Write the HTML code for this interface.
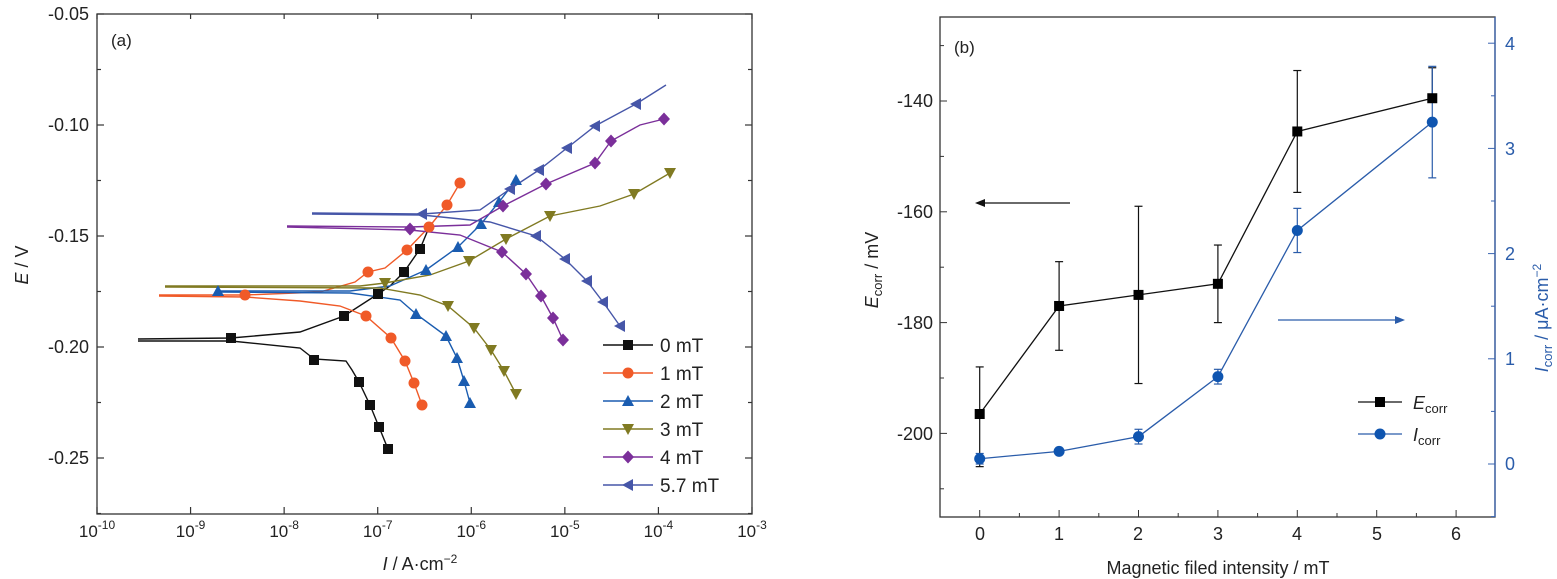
<!DOCTYPE html>
<html><head><meta charset="utf-8"><style>
html,body{margin:0;padding:0;background:#fff;}
svg{display:block;font-family:"Liberation Sans",Arial,sans-serif;}
</style></head><body>
<svg id="s" width="1557" height="579" viewBox="0 0 1557 579" xmlns="http://www.w3.org/2000/svg">
<rect width="1557" height="579" fill="#fff"/>
<!-- Left panel frame -->
<rect x="97" y="14" width="655" height="500" fill="none" stroke="#333" stroke-width="1.3"/>
<g id="lt" stroke="#333" stroke-width="1.2"></g>
<g font-size="18" fill="#222" text-anchor="end">
<text x="89" y="20">-0.05</text><text x="89" y="131">-0.10</text><text x="89" y="242">-0.15</text><text x="89" y="353">-0.20</text><text x="89" y="464">-0.25</text>
</g>
<g id="lx" font-size="17" fill="#222" text-anchor="middle"></g>
<text x="420" y="570" font-size="18" fill="#222" text-anchor="middle"><tspan font-style="italic">I</tspan> / A·cm<tspan dy="-7" font-size="12">−2</tspan></text>
<text transform="translate(28,265) rotate(-90)" font-size="18" fill="#222" text-anchor="middle"><tspan font-style="italic">E</tspan> / V</text>
<text x="111" y="46" font-size="17" fill="#222">(a)</text>
<g id="curves" fill="none" stroke-width="1.4"></g>
<g id="marks"></g>
<g id="leg"></g>

<!-- Right panel -->
<rect x="940" y="17" width="555" height="500" fill="none" stroke="#333" stroke-width="1.3"/>
<line x1="1495" y1="17" x2="1495" y2="517" stroke="#3a64b0" stroke-width="1.3"/>
<g id="rt"></g>
<g font-size="18" fill="#222" text-anchor="end">
<text x="933" y="107">-140</text><text x="933" y="218">-160</text><text x="933" y="329">-180</text><text x="933" y="440">-200</text>
</g>
<g font-size="18" fill="#2a5caa" text-anchor="start">
<text x="1505" y="50">4</text><text x="1505" y="155">3</text><text x="1505" y="260">2</text><text x="1505" y="365">1</text><text x="1505" y="470">0</text>
</g>
<g font-size="18" fill="#222" text-anchor="middle">
<text x="980" y="540">0</text><text x="1059" y="540">1</text><text x="1138" y="540">2</text><text x="1218" y="540">3</text><text x="1297" y="540">4</text><text x="1377" y="540">5</text><text x="1456" y="540">6</text>
</g>
<text x="1218" y="574" font-size="18" fill="#222" text-anchor="middle">Magnetic filed intensity / mT</text>
<text transform="translate(878,270) rotate(-90)" font-size="18" fill="#222" text-anchor="middle"><tspan font-style="italic">E</tspan><tspan font-size="13" dy="4">corr</tspan><tspan dy="-4"> / mV</tspan></text>
<text transform="translate(1548,318) rotate(-90)" font-size="18" fill="#2a5caa" text-anchor="middle"><tspan font-style="italic">I</tspan><tspan font-size="13" dy="4">corr</tspan><tspan dy="-4"> / μA·cm</tspan><tspan dy="-7" font-size="12">−2</tspan></text>
<text x="954" y="53" font-size="17" fill="#222">(b)</text>
<g id="rp"></g>
<!-- arrows -->
<line x1="1070" y1="203" x2="982" y2="203" stroke="#111" stroke-width="1.2"/>
<polygon points="975,203 985,199 985,207" fill="#111"/>
<line x1="1278" y1="320" x2="1398" y2="320" stroke="#2a5caa" stroke-width="1.2"/>
<polygon points="1405,320 1395,316 1395,324" fill="#2a5caa"/>
<!-- legend right -->
<line x1="1358" y1="402" x2="1402" y2="402" stroke="#111" stroke-width="1.3"/>
<rect x="1375" y="397" width="10" height="10" fill="#000"/>
<text x="1413" y="409" font-size="18" fill="#222"><tspan font-style="italic">E</tspan><tspan font-size="13" dy="4">corr</tspan></text>
<line x1="1358" y1="434" x2="1402" y2="434" stroke="#2a5caa" stroke-width="1.3"/>
<circle cx="1380" cy="434" r="5.5" fill="#0f55b0"/>
<text x="1413" y="441" font-size="18" fill="#222"><tspan font-style="italic">I</tspan><tspan font-size="13" dy="4">corr</tspan></text>
</svg>
<script>
const NS="http://www.w3.org/2000/svg";
function el(p,t,a){const e=document.createElementNS(NS,t);for(const k in a)e.setAttribute(k,a[k]);p.appendChild(e);return e;}
const $=id=>document.getElementById(id);
// left ticks
const lt=$('lt');
for(let i=0;i<=7;i++){const x=97+i*93.57;el(lt,'line',{x1:x,y1:514,x2:x,y2:507});el(lt,'line',{x1:x,y1:14,x2:x,y2:19});
 const t=el($('lx'),'text',{x:x,y:537});t.innerHTML=`10<tspan dy="-8" font-size="12">${-10+i}</tspan>`;}
for(let k=0;k<=9;k++){const y=14+k*55.5;const L=k%2==0?7:4;el(lt,'line',{x1:97,y1:y,x2:97+L,y2:y});el(lt,'line',{x1:752,y1:y,x2:752-L,y2:y});}
// series
const S=[
{c:'#111',m:'sq',a:[[138,339],[231,338],[300,332],[344,316],[378,294],[390,286],[404,272],[420,249],[430,225]],
 k:[[138,341],[231,341],[300,348],[314,359],[346,361],[352,370],[359,382],[370,405],[379,427],[388,449]],
 p:[[231,338],[344,316],[378,294],[404,272],[420,249],[314,360],[359,382],[370,405],[379,427],[388,449]]},
{c:'#f05a28',m:'ci',a:[[159,295],[245,295],[320,292],[355,282],[368,272],[385,268],[407,250],[429,227],[447,205],[460,183]],
 k:[[159,296],[245,297],[300,301],[340,306],[366,316],[391,338],[405,361],[414,383],[422,405]],
 p:[[245,295],[368,272],[407,250],[429,227],[447,205],[460,183],[366,316],[391,338],[405,361],[414,383],[422,405]]},
{c:'#1a5cb0',m:'tu',a:[[218,291],[350,291],[390,286],[426,270],[458,247],[481,224],[499,202],[516,180]],
 k:[[218,292],[350,293],[400,300],[416,314],[446,336],[457,358],[464,381],[470,403]],
 p:[[218,291],[426,270],[458,247],[481,224],[499,202],[516,180],[416,314],[446,336],[457,358],[464,381],[470,403]]},
{c:'#807a22',m:'td',a:[[165,286],[360,286],[385,283],[430,275],[469,261],[506,239],[550,216],[600,206],[634,194],[670,173]],
 k:[[165,287],[380,288],[420,295],[448,306],[474,328],[491,350],[504,371],[516,394]],
 p:[[385,283],[469,261],[506,239],[550,216],[634,194],[670,173],[448,306],[474,328],[491,350],[504,371],[516,394]]},
{c:'#7b2f9a',m:'di',a:[[287,226],[410,227],[470,225],[503,206],[546,184],[595,163],[611,141],[640,125],[664,119]],
 k:[[287,227],[410,230],[460,235],[502,252],[526,274],[541,296],[553,318],[563,340]],
 p:[[410,229],[503,206],[546,184],[595,163],[611,141],[664,119],[502,252],[526,274],[541,296],[553,318],[563,340]]},
{c:'#4656a8',m:'tl',a:[[312,213],[422,214],[480,210],[510,189],[539,170],[567,148],[595,126],[636,104],[666,85]],
 k:[[312,214],[422,215],[490,222],[536,236],[565,259],[587,281],[603,302],[620,326]],
 p:[[422,214],[510,189],[539,170],[567,148],[595,126],[636,104],[536,236],[565,259],[587,281],[603,302],[620,326]]}];
function mark(g,t,x,y,c,s){s=s||1;
 if(t=='sq')el(g,'rect',{x:x-5*s,y:y-5*s,width:10*s,height:10*s,fill:c});
 else if(t=='ci')el(g,'circle',{cx:x,cy:y,r:5.5*s,fill:c});
 else if(t=='tu')el(g,'polygon',{points:`${x},${y-6} ${x-6},${y+5} ${x+6},${y+5}`,fill:c});
 else if(t=='td')el(g,'polygon',{points:`${x},${y+6} ${x-6},${y-5} ${x+6},${y-5}`,fill:c});
 else if(t=='di')el(g,'polygon',{points:`${x},${y-6.5} ${x+6},${y} ${x},${y+6.5} ${x-6},${y}`,fill:c});
 else if(t=='tl')el(g,'polygon',{points:`${x-6},${y} ${x+5},${y-6} ${x+5},${y+6}`,fill:c});}
const names=['0 mT','1 mT','2 mT','3 mT','4 mT','5.7 mT'];
S.forEach((s,i)=>{
 el($('curves'),'polyline',{points:s.a.join(' '),stroke:s.c});
 el($('curves'),'polyline',{points:s.k.join(' '),stroke:s.c});
 s.p.forEach(p=>mark($('marks'),s.m,p[0],p[1],s.c));
 const y=345+i*28;
 el($('leg'),'line',{x1:603,y1:y,x2:653,y2:y,stroke:s.c,'stroke-width':1.4});
 mark($('leg'),s.m,628,y,s.c);
 const t=el($('leg'),'text',{x:660,y:y+7,'font-size':19,fill:'#222'});t.textContent=names[i];
});
// right ticks
const rt=$('rt');
const X=m=>979.7+m*79.4, YL=v=>101+(-140-v)*5.54, YR=v=>464-v*105.2;
for(let m=0;m<=6;m+=0.5){const x=X(m),L=m%1==0?7:4;el(rt,'line',{x1:x,y1:517,x2:x,y2:517-L,stroke:'#333'});}
for(let v=-210;v<=-120;v+=10){const y=YL(v);if(y<17||y>517)continue;const L=v%20==0?7:4;el(rt,'line',{x1:940,y1:y,x2:940+L,y2:y,stroke:'#333'});}
for(let v=-0.5;v<=4.2;v+=0.5){const y=YR(v);if(y<17||y>517)continue;const L=Math.abs(v%1)<1e-6?7:4;el(rt,'line',{x1:1495,y1:y,x2:1495-L,y2:y,stroke:'#3a64b0'});}
const ms=[0,1,2,3,4,5.7];
const E=[-196.5,-177,-175,-173,-145.5,-139.5], Eh=[-188,-169,-159,-166,-134.5,-134], El=[-206,-185,-191,-180,-156.5,-140];
const I=[0.05,0.12,0.26,0.83,2.22,3.25], Ih=[0.1,0.15,0.33,0.9,2.43,3.78], Il=[0.0,0.09,0.19,0.76,2.01,2.72];
const rp=$('rp');
function eb(x,y1,y2,c){el(rp,'line',{x1:x,y1:y1,x2:x,y2:y2,stroke:c,'stroke-width':1.2});el(rp,'line',{x1:x-4,y1:y1,x2:x+4,y2:y1,stroke:c,'stroke-width':1.2});el(rp,'line',{x1:x-4,y1:y2,x2:x+4,y2:y2,stroke:c,'stroke-width':1.2});}
ms.forEach((m,i)=>{eb(X(m),YL(Eh[i]),YL(El[i]),'#111');eb(X(m),YR(Ih[i]),YR(Il[i]),'#2a5caa');});
el(rp,'polyline',{points:ms.map((m,i)=>X(m)+','+YL(E[i])).join(' '),fill:'none',stroke:'#111','stroke-width':1.3});
el(rp,'polyline',{points:ms.map((m,i)=>X(m)+','+YR(I[i])).join(' '),fill:'none',stroke:'#2a5caa','stroke-width':1.3});
ms.forEach((m,i)=>{mark(rp,'sq',X(m),YL(E[i]),'#000');mark(rp,'ci',X(m),YR(I[i]),'#0f55b0');});
</script>
</body></html>
